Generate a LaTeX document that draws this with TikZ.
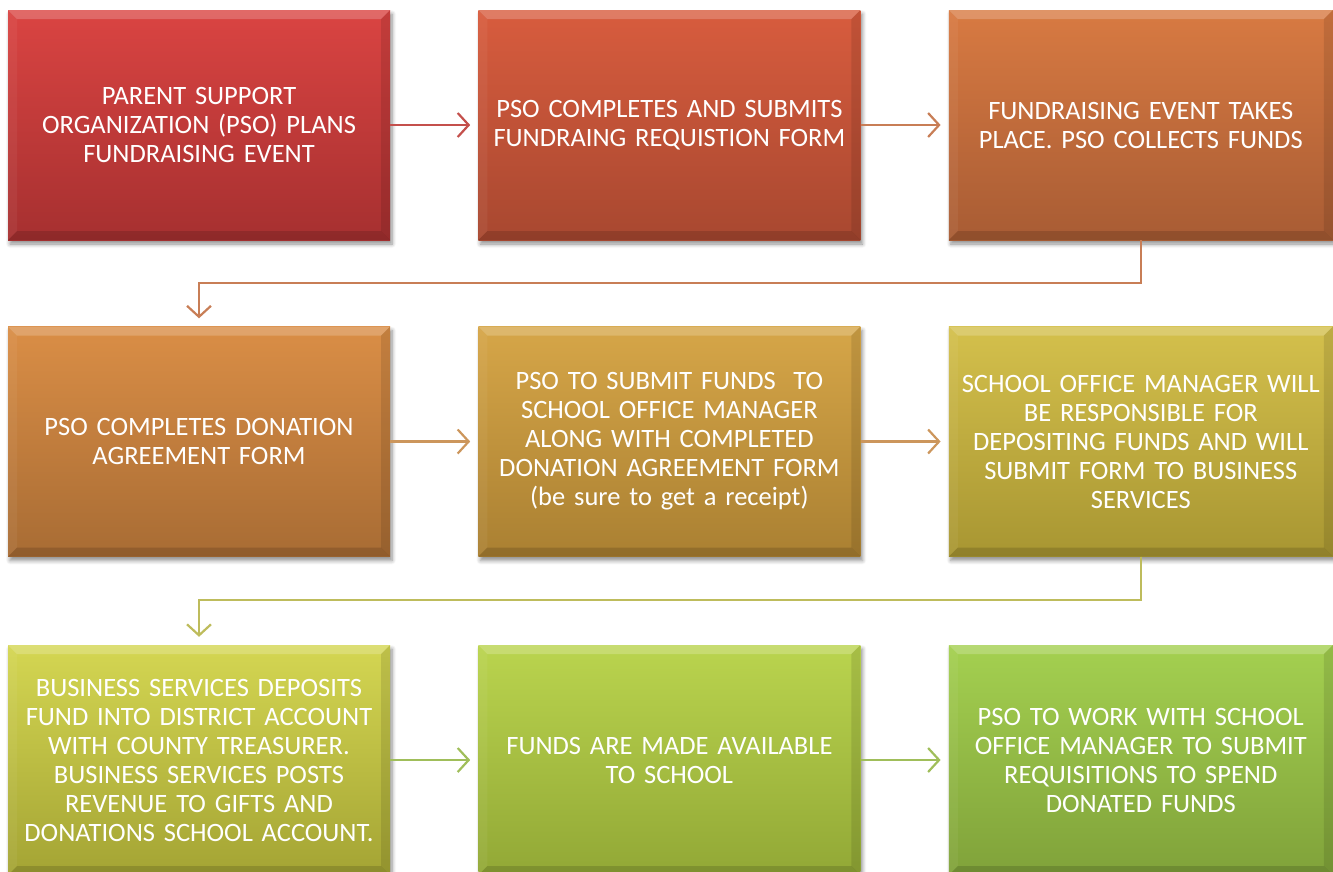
\documentclass[tikz,border=0pt]{standalone}
\usepackage{fontspec}
\setmainfont{Carlito}
\usetikzlibrary{positioning, arrows.meta, shadows.blur}

% colours of the steps, top and bottom of each box
\definecolor{stepAtop}{RGB}{218,68,66}   \definecolor{stepAbot}{RGB}{166,48,48}
\definecolor{stepBtop}{RGB}{216,92,62}   \definecolor{stepBbot}{RGB}{168,72,48}
\definecolor{stepCtop}{RGB}{216,122,66}  \definecolor{stepCbot}{RGB}{168,92,52}
\definecolor{stepDtop}{RGB}{218,142,70}  \definecolor{stepDbot}{RGB}{168,108,52}
\definecolor{stepEtop}{RGB}{214,166,72}  \definecolor{stepEbot}{RGB}{170,128,50}
\definecolor{stepFtop}{RGB}{212,192,76}  \definecolor{stepFbot}{RGB}{168,150,50}
\definecolor{stepGtop}{RGB}{212,214,82}  \definecolor{stepGbot}{RGB}{164,164,52}
\definecolor{stepHtop}{RGB}{186,212,78}  \definecolor{stepHbot}{RGB}{146,168,54}
\definecolor{stepItop}{RGB}{164,208,80}  \definecolor{stepIbot}{RGB}{128,162,58}
% colours of the links
\definecolor{linkA}{RGB}{196,80,76}
\definecolor{linkB}{RGB}{200,126,86}
\definecolor{linkC}{RGB}{204,150,92}
\definecolor{linkD}{RGB}{190,188,92}
\definecolor{linkE}{RGB}{160,190,90}

\tikzset{
  stepbox/.style 2 args={rectangle, minimum width=382pt, minimum height=230pt,
    inner sep=0pt, text width=376pt, align=center, text=white,
    font=\fontsize{26.5}{29}\selectfont, top color=#1, bottom color=#2,
    blur shadow={shadow xshift=2pt, shadow yshift=-4pt, shadow blur steps=6,
      shadow blur radius=4pt, shadow opacity=45},
    path picture={
      % bevelled rim
      \fill[white, opacity=.2] (path picture bounding box.north west)
        -- (path picture bounding box.north east) -- ++(-9pt,-9pt)
        -- ([shift={(9pt,-9pt)}]path picture bounding box.north west) -- cycle;
      \fill[white, opacity=.05] (path picture bounding box.north west)
        -- ([shift={(9pt,-9pt)}]path picture bounding box.north west)
        -- ([shift={(9pt,9pt)}]path picture bounding box.south west)
        -- (path picture bounding box.south west) -- cycle;
      \fill[black, opacity=.1] (path picture bounding box.north east)
        -- (path picture bounding box.south east) -- ++(-9pt,9pt)
        -- ([shift={(-9pt,-9pt)}]path picture bounding box.north east) -- cycle;
      \fill[black, opacity=.14] (path picture bounding box.south west)
        -- (path picture bounding box.south east) -- ++(-9pt,9pt)
        -- ([shift={(9pt,9pt)}]path picture bounding box.south west) -- cycle;
    }},
  link/.style={line width=2.2pt, -{Straight Barb[length=11pt, width=24pt, line width=2.2pt]},
    shorten >=8pt}
}

\begin{document}
\begin{tikzpicture}[node distance=88pt and 88pt]
\useasboundingbox (0,0) rectangle (1333pt,-871pt);

% first row
  \node[stepbox={stepAtop}{stepAbot}] (plan) at (199pt,-125pt)
{PARENT SUPPORT\\ORGANIZATION (PSO) PLANS\\FUNDRAISING EVENT};
  \node[stepbox={stepBtop}{stepBbot}] (request) [right=of plan]
{PSO COMPLETES AND SUBMITS\\FUNDRAING REQUISTION FORM};
  \node[stepbox={stepCtop}{stepCbot}, minimum width=384pt] (event) [right=of request]
{FUNDRAISING EVENT TAKES\\PLACE. PSO COLLECTS FUNDS};

% second row
  \node[stepbox={stepDtop}{stepDbot}] (agree) at (199pt,-441.5pt)
{PSO COMPLETES DONATION\\AGREEMENT FORM};
  \node[stepbox={stepEtop}{stepEbot}] (submit) [right=of agree]
{PSO TO SUBMIT FUNDS\ \ TO\\SCHOOL OFFICE MANAGER\\ALONG WITH COMPLETED\\DONATION AGREEMENT FORM\\(be sure to get a receipt)};
  \node[stepbox={stepFtop}{stepFbot}, minimum width=384pt] (deposit) [right=of submit]
{SCHOOL OFFICE MANAGER WILL\\BE RESPONSIBLE FOR\\DEPOSITING FUNDS AND WILL\\SUBMIT FORM TO BUSINESS\\SERVICES};

% third row
  \node[stepbox={stepGtop}{stepGbot}] (post) at (199pt,-760pt)
{BUSINESS SERVICES DEPOSITS\\FUND INTO DISTRICT ACCOUNT\\WITH COUNTY TREASURER.\\BUSINESS SERVICES POSTS\\REVENUE TO GIFTS AND\\DONATIONS SCHOOL ACCOUNT.};
  \node[stepbox={stepHtop}{stepHbot}] (avail) [right=of post]
{FUNDS ARE MADE AVAILABLE\\TO SCHOOL};
  \node[stepbox={stepItop}{stepIbot}, minimum width=384pt] (spend) [right=of avail]
{PSO TO WORK WITH SCHOOL\\OFFICE MANAGER TO SUBMIT\\REQUISITIONS TO SPEND\\DONATED FUNDS};

% links
  \draw[link, linkA] (plan) -- (request);
  \draw[link, linkB] (request) -- (event);
  \draw[link, linkB, line width=1.8pt] (event.south) -- ++(0,-43pt) -| (agree.north);
  \draw[link, linkC] (agree) -- (submit);
  \draw[link, linkC] (submit) -- (deposit);
  \draw[link, linkD, line width=1.8pt] (deposit.south) -- ++(0,-43pt) -| (post.north);
  \draw[link, linkE] (post) -- (avail);
  \draw[link, linkE] (avail) -- (spend);
\end{tikzpicture}
\end{document}
